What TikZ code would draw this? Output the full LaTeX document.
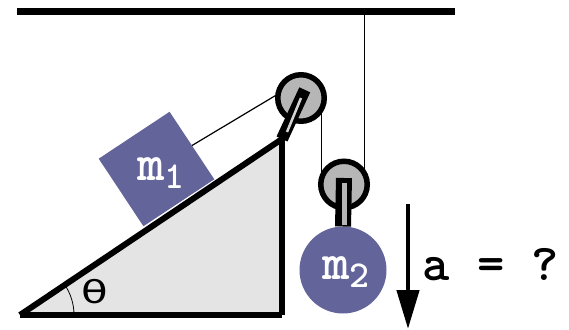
\documentclass[tikz,border=0pt]{standalone}
\usepackage{fontspec}
\usetikzlibrary{arrows.meta}
\newfontfamily\thetafont{DejaVu Sans}
\definecolor{massblue}{HTML}{62649A}
\definecolor{wheelgray}{HTML}{B6B6B6}
\definecolor{rampgray}{HTML}{E4E4E4}
\tikzstyle{mass} = [draw=none, fill=massblue, text=white, inner sep=0pt, outer sep=0pt]
\tikzstyle{wheel} = [circle, draw=black, line width=5.5pt, fill=wheelgray, minimum size=46.5pt, inner sep=0pt, outer sep=0pt]
\tikzstyle{rope} = [line width=1.2pt, black]
\tikzstyle{wall} = [line width=6pt, black]
\newcommand\massname[1]{\ttfamily\bfseries\fontsize{52}{52}\selectfont m\raisebox{-8pt}{\fontsize{38}{38}\selectfont #1}}

\begin{document}
\begin{tikzpicture}[x=1pt, y=1pt]
	    \useasboundingbox (0,0) rectangle (569,329);
	    \coordinate (ceilLeft) at (17,317);
	    \coordinate (ceilRight) at (455,317);
	    \coordinate (rampLeft) at (20,14);
	    \coordinate (rampCorner) at (282,14);
	    \coordinate (rampTop) at (282,190);
	    \coordinate (arrowTop) at (408,125);
	    \coordinate (arrowEnd) at (408,0);

	    \draw[line width=7pt] (ceilLeft)--(ceilRight);

	    \fill[rampgray] (rampLeft)--(rampCorner)--(rampTop)--cycle;
	    \draw[wall] (rampCorner)--(rampTop);
	    \draw[wall] (rampLeft)--(rampCorner);
	    \draw[wall] (rampLeft)--(rampTop);
	    \draw[line width=0.8pt] (rampLeft) ++(34:54) arc[start angle=34, end angle=0, radius=54];
	    \node (angleLabel) at (95,37) {\thetafont\fontsize{30}{30}\selectfont\scalebox{1.45}[1.05]{θ}};

	    \node[mass, rotate=33.5, minimum width=85pt, minimum height=81pt] (blockOne) at (156.5,160) {};
	    \node[text=white] at (161,156) (blockLabel) {\massname{1}};

	    \node[wheel] (pulleyOne) at (301,231) {};
	    \node[wheel] (pulleyTwo) at (344,144.5) {};
	    \node[mass, circle, minimum size=87pt] (ballTwo) at (343,59) {};
	    \node[text=white] at (346,57) (ballLabel) {\massname{2}};

	    \draw[rope] (blockOne.east)--(pulleyOne.170);
	    \draw[rope] (pulleyOne.-27)--(pulleyOne.-27 |- pulleyTwo.160);
	    \draw[rope] (pulleyTwo.27)--(pulleyTwo.27 |- ceilRight);

	    % the two brackets
	    \draw[line width=12pt, black, shorten >=-9pt] (rampTop)--(pulleyOne.center);
	    \draw[line width=2.5pt, wheelgray!60] (287,197)--(pulleyOne.center);
	    \draw[line width=16pt, black] (ballTwo.north)--(344,151);
	    \draw[line width=5pt, wheelgray] (344,104)--(344,146);

	    \draw[line width=4.5pt, -{Triangle[length=39pt, width=22pt]}] (arrowTop)--(arrowEnd);
	    \node[anchor=center] (accelLabel) at (491,64) {\ttfamily\bfseries\fontsize{52}{52}\selectfont a = ?};
	\end{tikzpicture}
\end{document}
